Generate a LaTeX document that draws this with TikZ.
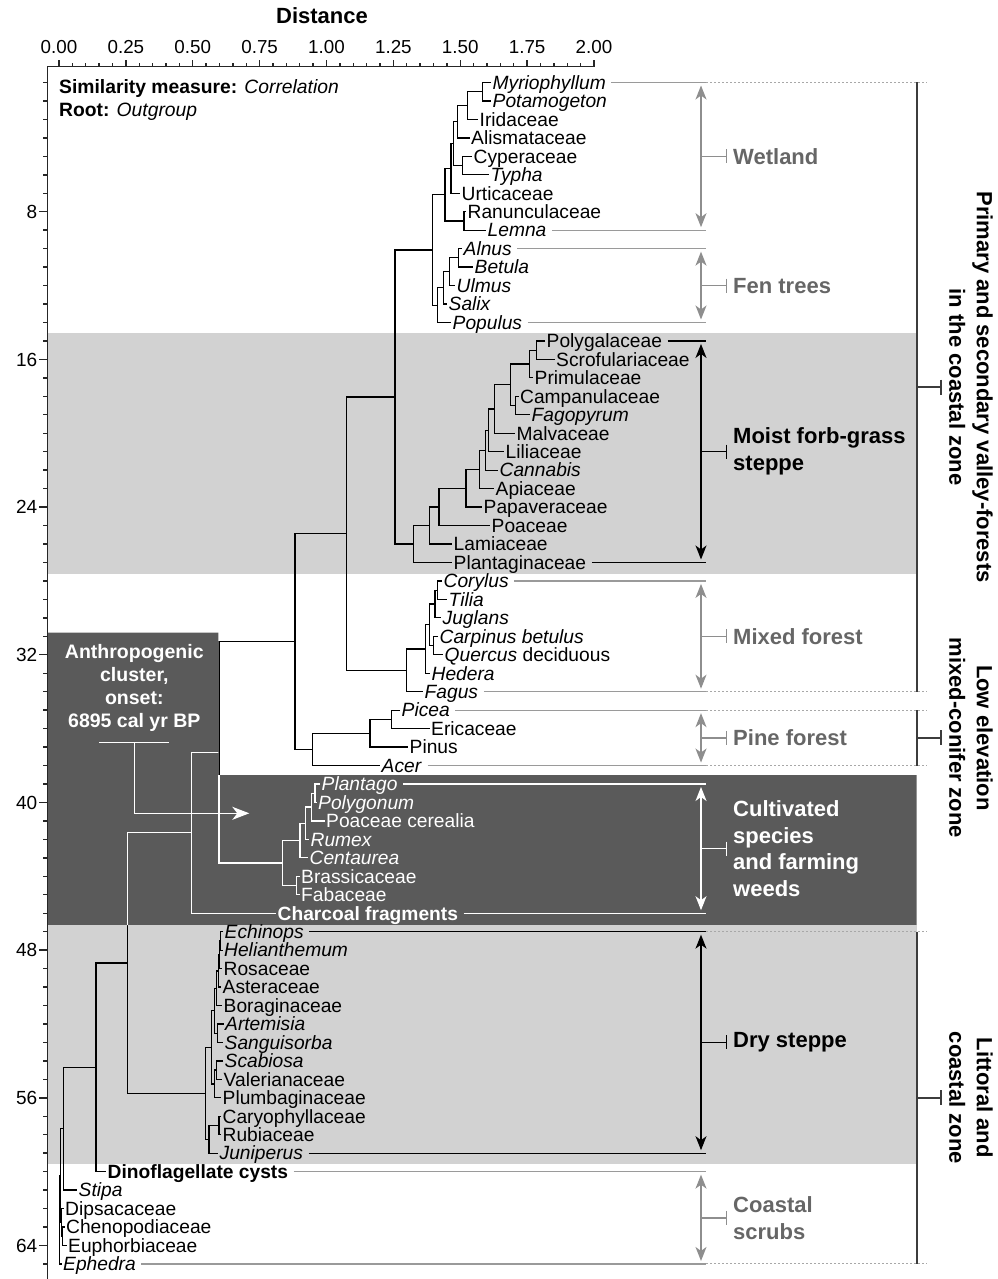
\documentclass[tikz,border=0pt]{standalone}
\usepackage{fontspec}
\setmainfont{Liberation Sans}
\usetikzlibrary{calc,arrows.meta}

\definecolor{bandlight}{HTML}{D2D2D2}
\definecolor{banddark}{HTML}{5A5A5A}
\definecolor{grouptext}{HTML}{666666}
\definecolor{grouparrow}{HTML}{8E8E8E}
\definecolor{leadgray}{HTML}{9A9A9A}
\definecolor{dotgray}{HTML}{A8A8A8}
\definecolor{zoneline}{HTML}{3C3C3C}

% one clade: name, distance (x), two children
\newcommand{\clade}[4]{%
  \path let \p1=($(#3)!.5!(#4)$) in coordinate (#1) at (#2pt,\y1);
  \draw[branch] (#3) -| (#1) |- (#4);}

\newcommand{\treeedges}{%
  % wetland
  \clade{w1}{482.7}{myr}{pot}
  \clade{w2}{467.7}{w1}{iri}
  \clade{w3}{457.3}{w2}{ali}
  \clade{w4}{462.7}{cyp}{typ}
  \clade{w5}{453.3}{w3}{w4}
  \clade{w6}{451}{w5}{urt}
  \clade{w7}{464}{ran}{lem}
  \clade{w8}{445}{w6}{w7}
  % fen trees
  \clade{f1}{458.3}{aln}{bet}
  \clade{f2}{449.3}{f1}{ulm}
  \clade{f3}{443.3}{f2}{sal}
  \clade{f4}{437.3}{f3}{pop}
  \clade{wf}{432.3}{w8}{f4}
  % moist forb-grass steppe
  \clade{m1}{536.7}{pgl}{scr}
  \clade{m2}{529.3}{m1}{pri}
  \clade{m3}{515.7}{cam}{fgp}
  \clade{m4}{510.7}{m2}{m3}
  \clade{m5}{494.3}{m4}{mal}
  \clade{m6}{488.3}{m5}{lil}
  \clade{m7}{485.7}{m6}{can}
  \clade{m8}{479.3}{m7}{api}
  \clade{m9}{466}{m8}{pap}
  \clade{m10}{439}{m9}{poa}
  \clade{m11}{429.3}{m10}{lam}
  \clade{m12}{413.3}{m11}{plt}
  \clade{a1}{395}{wf}{m12}
  % mixed forest
  \clade{x1}{437.3}{cor}{til}
  \clade{x2}{435}{x1}{jug}
  \clade{x3}{433.3}{crp}{que}
  \clade{x4}{429.3}{x2}{x3}
  \clade{x5}{425.3}{x4}{hed}
  \clade{x6}{406.7}{x5}{fgs}
  \clade{a2}{346.7}{a1}{x6}
  % pine forest
  \clade{p1}{391.7}{pic}{eri}
  \clade{p2}{370}{p1}{pin}
  \clade{p3}{312.7}{p2}{ace}
  \clade{a3}{295}{a2}{p3}
  % cultivated species
  \clade{c1}{315}{plg}{pgn}
  \clade{c2}{311.7}{c1}{pce}
  \clade{c3}{305.7}{c2}{rum}
  \clade{c4}{300}{c3}{cen}
  \clade{c5}{296.7}{bra}{fab}
  \clade{c6}{282.3}{c4}{c5}
  \clade{a4}{219}{a3}{c6}
  \clade{a5}{191.7}{a4}{cha}
  % dry steppe
  \clade{d1}{220.5}{ech}{hel}
  \clade{d2}{219.3}{d1}{ros}
  \clade{d3}{218.3}{d2}{ast}
  \clade{d4}{216.8}{d3}{bor}
  \clade{d5}{217.8}{art}{san}
  \clade{d6}{214.7}{d4}{d5}
  \clade{d7}{216.3}{sca}{val}
  \clade{d8}{214.3}{d7}{plu}
  \clade{d9}{211.5}{d6}{d8}
  \clade{d10}{219}{cry}{rub}
  \clade{d11}{209}{d10}{jun}
  \clade{d12}{205.7}{d9}{d11}
  \clade{a6}{127.3}{a5}{d12}
  \clade{a7}{96}{a6}{din}
  % coastal scrubs
  \clade{a8}{63.3}{a7}{sti}
  \clade{s1}{62.8}{che}{eup}
  \clade{s2}{61.8}{dip}{s1}
  \clade{a9}{60.7}{a8}{s2}
  \clade{top}{59.3}{a9}{eph}}

\begin{document}
\begin{tikzpicture}[x=1pt,y=-1pt,
    declare function={rowy(\n)=64.04+18.46*\n;},
    leaf node/.style={anchor=west,inner xsep=1.5pt,inner ysep=0pt,
      text height=15pt,text depth=1.4pt,font=\fontsize{19.2}{22}\selectfont},
    branch/.style={line width=1.25pt},
    axis line/.style={line width=1.4pt,draw=black!85},
    lead line/.style={line width=1.2pt,shorten <=4pt},
    dot line/.style={line width=1pt,dotgray,dash pattern=on 2pt off 2pt},
    group arrow/.style={line width=1.4pt,>={Stealth[length=14pt,width=11pt,inset=4pt]},<->,
      shorten <=3pt,shorten >=3pt},
    group tick/.style={line width=1.4pt,-{Bar[width=14pt]}},
    group label/.style={anchor=west,align=left,inner sep=0pt,
      font=\bfseries\fontsize{22}{26.8}\selectfont},
    zone line/.style={line width=1.8pt,zoneline},
    zone label/.style={rotate=-90,align=center,inner sep=0pt,
      font=\bfseries\fontsize{22}{27.5}\selectfont}]

\useasboundingbox (0,0) rectangle (997,1279);

% Bands
\fill[bandlight] (47.3,332.8) rectangle (916.7,573.5);
\fill[banddark] (47.3,632.7) rectangle (218.3,925) (218.3,775) rectangle (916.7,925);
\fill[bandlight] (47.3,925) rectangle (916.7,1164);

% Axes
\draw[axis line] (47.3,1279) -- (47.3,66.7) -- (594,66.7);
\foreach \i in {0,...,40} {
  \pgfmathsetmacro\tl{ifthenelse(mod(\i,5)==0,7,3.5)}
  \draw[axis line] ({59+13.375*\i},66.7) -- ++(0,-\tl);
}
\foreach \v [count=\k from 0] in {0.00,0.25,0.50,0.75,1.00,1.25,1.50,1.75,2.00}
  \node[anchor=base,inner sep=0pt,font=\fontsize{18.8}{22}\selectfont] (xtick\k) at ({59+66.875*\k},54) {\v};
\node[anchor=base,inner sep=0pt,font=\bfseries\fontsize{22}{26}\selectfont] (dist) at (322,24) {Distance};
\foreach \r in {1,...,65} {
  \pgfmathsetmacro\tl{ifthenelse(mod(\r,8)==0,8,4)}
  \draw[axis line] (47.3,{rowy(\r)}) -- ++(-\tl,0);
}
\foreach \r in {8,16,...,64}
  \node[anchor=east,inner sep=0pt,text height=13.6pt,text depth=0pt,font=\fontsize{19}{22}\selectfont] (ytick\r) at (37.5,{rowy(\r)}) {\r};

\node[anchor=base west,inner sep=0pt,font=\fontsize{19.3}{22}\selectfont] (simil) at (59,94)
  {\textbf{Similarity measure:} \textit{Correlation}};
\node[anchor=base west,inner sep=0pt,font=\fontsize{19.3}{22}\selectfont] (rootlab) at (59,116.7)
  {\textbf{Root:} \textit{Outgroup}};

% Leaves
\node[leaf node] (myr) at (491,{rowy(1)}) {\textit{Myriophyllum}};
\node[leaf node] (pot) at (491,{rowy(2)}) {\textit{Potamogeton}};
\node[leaf node] (iri) at (478,{rowy(3)}) {Iridaceae};
\node[leaf node] (ali) at (469.5,{rowy(4)}) {Alismataceae};
\node[leaf node] (cyp) at (472,{rowy(5)}) {Cyperaceae};
\node[leaf node] (typ) at (489,{rowy(6)}) {\textit{Typha}};
\node[leaf node] (urt) at (460,{rowy(7)}) {Urticaceae};
\node[leaf node] (ran) at (466,{rowy(8)}) {Ranunculaceae};
\node[leaf node] (lem) at (486,{rowy(9)}) {\textit{Lemna}};
\node[leaf node] (aln) at (462,{rowy(10)}) {\textit{Alnus}};
\node[leaf node] (bet) at (473,{rowy(11)}) {\textit{Betula}};
\node[leaf node] (ulm) at (455,{rowy(12)}) {\textit{Ulmus}};
\node[leaf node] (sal) at (447,{rowy(13)}) {\textit{Salix}};
\node[leaf node] (pop) at (451,{rowy(14)}) {\textit{Populus}};
\node[leaf node] (pgl) at (545,{rowy(15)}) {Polygalaceae};
\node[leaf node] (scr) at (554.5,{rowy(16)}) {Scrofulariaceae};
\node[leaf node] (pri) at (533,{rowy(17)}) {Primulaceae};
\node[leaf node] (cam) at (518.5,{rowy(18)}) {Campanulaceae};
\node[leaf node] (fgp) at (530,{rowy(19)}) {\textit{Fagopyrum}};
\node[leaf node] (mal) at (515,{rowy(20)}) {Malvaceae};
\node[leaf node] (lil) at (504,{rowy(21)}) {Liliaceae};
\node[leaf node] (can) at (498,{rowy(22)}) {\textit{Cannabis}};
\node[leaf node] (api) at (494,{rowy(23)}) {Apiaceae};
\node[leaf node] (pap) at (482,{rowy(24)}) {Papaveraceae};
\node[leaf node] (poa) at (490,{rowy(25)}) {Poaceae};
\node[leaf node] (lam) at (452,{rowy(26)}) {Lamiaceae};
\node[leaf node] (plt) at (452,{rowy(27)}) {Plantaginaceae};
\node[leaf node] (cor) at (442,{rowy(28)}) {\textit{Corylus}};
\node[leaf node] (til) at (447,{rowy(29)}) {\textit{Tilia}};
\node[leaf node] (jug) at (441,{rowy(30)}) {\textit{Juglans}};
\node[leaf node] (crp) at (438,{rowy(31)}) {\textit{Carpinus betulus}};
\node[leaf node] (que) at (443,{rowy(32)}) {\textit{Quercus} deciduous};
\node[leaf node] (hed) at (430,{rowy(33)}) {\textit{Hedera}};
\node[leaf node] (fgs) at (423,{rowy(34)}) {\textit{Fagus}};
\node[leaf node] (pic) at (400,{rowy(35)}) {\textit{Picea}};
\node[leaf node] (eri) at (429.5,{rowy(36)}) {Ericaceae};
\node[leaf node] (pin) at (408,{rowy(37)}) {Pinus};
\node[leaf node] (ace) at (380,{rowy(38)}) {\textit{Acer}};
\node[leaf node,text=white] (plg) at (320,{rowy(39)}) {\textit{Plantago}};
\node[leaf node,text=white] (pgn) at (316.5,{rowy(40)}) {\textit{Polygonum}};
\node[leaf node,text=white] (pce) at (324.5,{rowy(41)}) {Poaceae cerealia};
\node[leaf node,text=white] (rum) at (309,{rowy(42)}) {\textit{Rumex}};
\node[leaf node,text=white] (cen) at (308,{rowy(43)}) {\textit{Centaurea}};
\node[leaf node,text=white] (bra) at (299.5,{rowy(44)}) {Brassicaceae};
\node[leaf node,text=white] (fab) at (299.5,{rowy(45)}) {Fabaceae};
\node[leaf node,text=white] (cha) at (276,{rowy(46)}) {\textbf{Charcoal fragments}};
\node[leaf node] (ech) at (223,{rowy(47)}) {\textit{Echinops}};
\node[leaf node] (hel) at (222.5,{rowy(48)}) {\textit{Helianthemum}};
\node[leaf node] (ros) at (222,{rowy(49)}) {Rosaceae};
\node[leaf node] (ast) at (221,{rowy(50)}) {Asteraceae};
\node[leaf node] (bor) at (222,{rowy(51)}) {Boraginaceae};
\node[leaf node] (art) at (223.5,{rowy(52)}) {\textit{Artemisia}};
\node[leaf node] (san) at (223,{rowy(53)}) {\textit{Sanguisorba}};
\node[leaf node] (sca) at (223,{rowy(54)}) {\textit{Scabiosa}};
\node[leaf node] (val) at (222,{rowy(55)}) {Valerianaceae};
\node[leaf node] (plu) at (221,{rowy(56)}) {Plumbaginaceae};
\node[leaf node] (cry) at (221,{rowy(57)}) {Caryophyllaceae};
\node[leaf node] (rub) at (221,{rowy(58)}) {Rubiaceae};
\node[leaf node] (jun) at (218,{rowy(59)}) {\textit{Juniperus}};
\node[leaf node] (din) at (106,{rowy(60)}) {\textbf{Dinoflagellate cysts}};
\node[leaf node] (sti) at (77,{rowy(61)}) {\textit{Stipa}};
\node[leaf node] (dip) at (63.5,{rowy(62)}) {Dipsacaceae};
\node[leaf node] (che) at (64.5,{rowy(63)}) {Chenopodiaceae};
\node[leaf node] (eup) at (66.5,{rowy(64)}) {Euphorbiaceae};
\node[leaf node] (eph) at (61.5,{rowy(65)}) {\textit{Ephedra}};

% Tree: black, then white inside the dark band
\begin{scope}[color=black]
  \treeedges
\end{scope}
\begin{scope}
  \clip (47.3,632.7) rectangle (218.3,925) (218.3,775) rectangle (916.7,925);
  \begin{scope}[color=white]
    \treeedges
  \end{scope}
\end{scope}

% Leader lines and dotted guides
\coordinate (leadx) at (706,0);
\coordinate (dotx) at (927,0);
\coordinate (arrx) at (701,0);
\coordinate (tickx) at (727,0);
\coordinate (labx) at (733,0);
\draw[lead line,leadgray] (myr.east) -- (myr.east -| leadx);
\draw[lead line,leadgray] (lem.east) -- (lem.east -| leadx);
\draw[lead line,leadgray] (aln.east) -- (aln.east -| leadx);
\draw[lead line,leadgray] (pop.east) -- (pop.east -| leadx);
\draw[lead line,black] (pgl.east) -- (pgl.east -| leadx);
\draw[lead line,black] (plt.east) -- (plt.east -| leadx);
\draw[lead line,leadgray] (cor.east) -- (cor.east -| leadx);
\draw[lead line,leadgray] (fgs.east) -- (fgs.east -| leadx);
\draw[lead line,leadgray] (pic.east) -- (pic.east -| leadx);
\draw[lead line,leadgray] (ace.east) -- (ace.east -| leadx);
\draw[lead line,white] (plg.east) -- (plg.east -| leadx);
\draw[lead line,white] (cha.east) -- (cha.east -| leadx);
\draw[lead line,black] (ech.east) -- (ech.east -| leadx);
\draw[lead line,black] (jun.east) -- (jun.east -| leadx);
\draw[lead line,leadgray] (din.east) -- (din.east -| leadx);
\draw[lead line,leadgray] (eph.east) -- (eph.east -| leadx);
\foreach \n in {myr,fgs,pic,ace,ech,eph}
  \draw[dot line] (leadx |- \n) -- (dotx |- \n);

% Groups
\coordinate (wetmid) at ($(arrx |- myr)!.5!(arrx |- lem)$);
\draw[group arrow,grouparrow] (arrx |- myr) -- (arrx |- lem);
\draw[group tick,grouparrow] (wetmid) -- (wetmid -| tickx);
\node[group label,text=grouptext] (wet) at (wetmid -| labx) {Wetland};

\coordinate (fenmid) at ($(arrx |- aln)!.5!(arrx |- pop)$);
\draw[group arrow,grouparrow] (arrx |- aln) -- (arrx |- pop);
\draw[group tick,grouparrow] (fenmid) -- (fenmid -| tickx);
\node[group label,text=grouptext] (fen) at (fenmid -| labx) {Fen trees};

\coordinate (moimid) at ($(arrx |- pgl)!.5!(arrx |- plt)$);
\draw[group arrow,black] (arrx |- pgl) -- (arrx |- plt);
\draw[group tick,black] (moimid) -- (moimid -| tickx);
\node[group label,text=black] (moist) at (moimid -| labx) {Moist forb-grass\\steppe};

\coordinate (mixmid) at ($(arrx |- cor)!.5!(arrx |- fgs)$);
\draw[group arrow,grouparrow] (arrx |- cor) -- (arrx |- fgs);
\draw[group tick,grouparrow] (mixmid) -- (mixmid -| tickx);
\node[group label,text=grouptext] (mixed) at (mixmid -| labx) {Mixed forest};

\coordinate (pinmid) at ($(arrx |- pic)!.5!(arrx |- ace)$);
\draw[group arrow,grouparrow] (arrx |- pic) -- (arrx |- ace);
\draw[group tick,grouparrow] (pinmid) -- (pinmid -| tickx);
\node[group label,text=grouptext] (pine) at (pinmid -| labx) {Pine forest};

\coordinate (culmid) at ($(arrx |- plg)!.5!(arrx |- cha)$);
\draw[group arrow,white] (arrx |- plg) -- (arrx |- cha);
\draw[group tick,white] (culmid) -- (culmid -| tickx);
\node[group label,text=white] (cult) at (culmid -| labx) {Cultivated\\species\\and farming\\weeds};

\coordinate (drymid) at ($(arrx |- ech)!.5!(arrx |- jun)$);
\draw[group arrow,black] (arrx |- ech) -- (arrx |- jun);
\draw[group tick,black] (drymid) -- (drymid -| tickx);
\node[group label,text=black] (dry) at (drymid -| labx) {Dry steppe};

\coordinate (coamid) at ($(arrx |- din)!.5!(arrx |- eph)$);
\draw[group arrow,grouparrow] (arrx |- din) -- (arrx |- eph);
\draw[group tick,grouparrow] (coamid) -- (coamid -| tickx);
\node[group label,text=grouptext] (coast) at (coamid -| labx) {Coastal\\scrubs};

% Zones
\coordinate (zonex) at (916.7,0);
\coordinate (zonetick) at (941.7,0);
\coordinate (zonetext) at (971,0);
\draw[zone line] (zonex |- myr) -- (zonex |- fgs);
\coordinate (z1mid) at ($(zonex |- myr)!.5!(zonex |- fgs)$);
\draw[zone line,-{Bar[width=15pt]}] (z1mid) -- (z1mid -| zonetick);
\node[zone label] (zone1) at (z1mid -| zonetext) {Primary and secondary valley-forests\\in the coastal zone};
\draw[zone line] (zonex |- pic) -- (zonex |- ace);
\coordinate (z2mid) at ($(zonex |- pic)!.5!(zonex |- ace)$);
\draw[zone line,-{Bar[width=15pt]}] (z2mid) -- (z2mid -| zonetick);
\node[zone label] (zone2) at (z2mid -| zonetext) {Low elevation\\mixed-conifer zone};
\draw[zone line] (zonex |- ech) -- (zonex |- eph);
\coordinate (z3mid) at ($(zonex |- ech)!.5!(zonex |- eph)$);
\draw[zone line,-{Bar[width=15pt]}] (z3mid) -- (z3mid -| zonetick);
\node[zone label] (zone3) at (z3mid -| zonetext) {Littoral and\\coastal zone};

% Anthropogenic onset
\node[align=center,inner sep=0pt,text=white,font=\bfseries\fontsize{19.5}{23.1}\selectfont]
  (anthro) at (134.3,688) {Anthropogenic\\cluster,\\onset:\\6895 cal yr BP};
\coordinate (anthl) at (99.3,742.7);
\coordinate (anthr) at (168.7,742.7);
\coordinate (anthc) at (134.3,742.7);
\coordinate (anthtip) at (249.3,813.3);
\draw[white,line width=1.3pt] (anthl) -- (anthr);
\draw[white,line width=1.3pt,-{Stealth[length=17pt,width=13pt,inset=5pt]}] (anthc) |- (anthtip);

\end{tikzpicture}
\end{document}
